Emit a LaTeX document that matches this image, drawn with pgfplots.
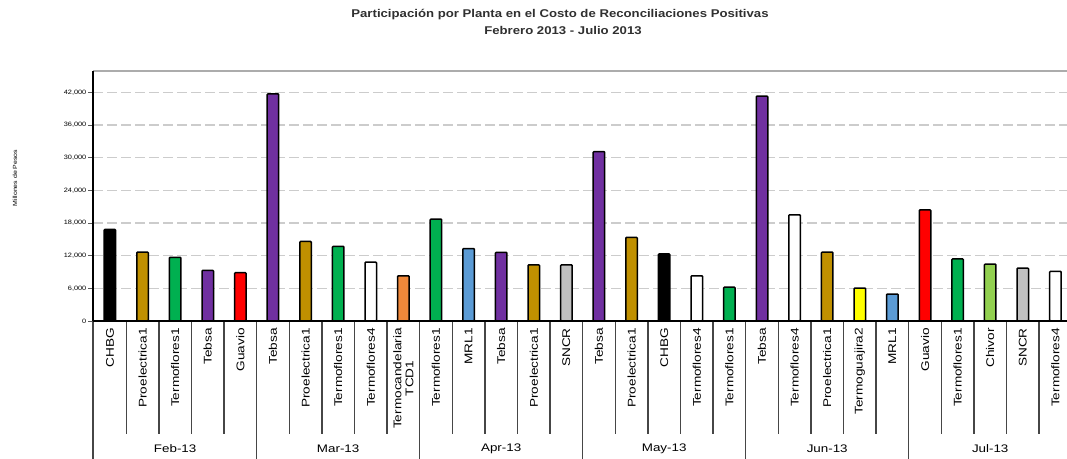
\documentclass[border=0pt]{standalone}
\usepackage{fontspec}
\setmainfont{Liberation Sans}
\newfontfamily\sfs[FakeStretch=1.17]{Liberation Sans}
\newfontfamily\sfl[FakeStretch=1.22]{Liberation Sans}
\usepackage{pgfplots}
\pgfplotsset{compat=1.18}
\definecolor{cgold}{HTML}{C09000}
\definecolor{cgreen}{HTML}{00B050}
\definecolor{cpurple}{HTML}{7030A0}
\definecolor{cred}{HTML}{FF0000}
\definecolor{corange}{HTML}{F0883A}
\definecolor{cblue}{HTML}{5B9BD5}
\definecolor{cgray}{HTML}{C0C0C0}
\definecolor{cyellow}{HTML}{FFFF00}
\definecolor{clgreen}{HTML}{92D050}
\definecolor{titlegray}{HTML}{303030}
\begin{document}
\begin{tikzpicture}[x=1bp,y=1bp]
\useasboundingbox (0,0) rectangle (1067,459);
\clip (0,0) rectangle (1067,459);
\node[font=\sfs\bfseries\fontsize{11.3}{13}\selectfont, text=titlegray, inner sep=0] at (560,444) {Participación por Planta en el Costo de Reconciliaciones Positivas};
\node[font=\sfs\bfseries\fontsize{11.3}{13}\selectfont, text=titlegray, inner sep=0] at (563,428.5) {Febrero 2013 - Julio 2013};
\node[rotate=90, font=\sfs\fontsize{6}{7}\selectfont, inner sep=0] at (15,281) {Millones de Pesos};
\begin{axis}[
  at={(93bp,138bp)}, anchor=south west,
  scale only axis, width=978.7bp, height=250bp,
  xmin=-0.52, xmax=29.5, ymin=0, ymax=45900,
  clip=false,
  axis line style={draw=none},
  ybar, bar width=11.5bp,
  ytick={0,6000,12000,18000,24000,30000,36000,42000},
  ymajorgrids,
  major grid style={draw=gray!40, line width=1.4bp, dash pattern=on 10bp off 4bp},
  tick align=outside,
  major tick length=5bp,
  ytick style={draw=gray!70!black, line width=0.8bp},
  yticklabel style={font=\sfs\fontsize{6.3}{7}\selectfont, inner sep=1.5bp},
  /pgf/number format/assume math mode=true,
  /pgf/number format/1000 sep={,},
  /pgf/number format/fixed,
  scaled y ticks=false,
  xtick={0,...,29},
  xtick style={draw=none},
  xticklabel style={yshift=-2bp, rotate=90, anchor=east, align=center, font=\sfl\fontsize{11.2}{12}\selectfont, inner sep=0pt},
  xticklabels={CHBG,Proelectrica1,Termoflores1,Tebsa,Guavio,
    Tebsa,Proelectrica1,Termoflores1,Termoflores4,{Termocandelaria\\TCD1},
    Termoflores1,MRL1,Tebsa,Proelectrica1,SNCR,
    Tebsa,Proelectrica1,CHBG,Termoflores4,Termoflores1,
    Tebsa,Termoflores4,Proelectrica1,Termoguajira2,MRL1,
    Guavio,Termoflores1,Chivor,SNCR,Termoflores4},
  every axis plot/.append style={bar shift=0pt, draw=black, line width=1.5bp, rounded corners=0.8bp},
]
\addplot[fill=black] coordinates {(0,16800) (17,12300)};
\addplot[fill=cgold] coordinates {(1,12650) (6,14600) (13,10300) (16,15350) (22,12650)};
\addplot[fill=cgreen] coordinates {(2,11700) (7,13700) (10,18700) (19,6200) (26,11400)};
\addplot[fill=cpurple] coordinates {(3,9300) (5,41700) (12,12600) (15,31100) (20,41300)};
\addplot[fill=cred] coordinates {(4,8870) (25,20400)};
\addplot[fill=white] coordinates {(8,10800) (18,8300) (21,19500) (29,9100)};
\addplot[fill=corange] coordinates {(9,8300)};
\addplot[fill=cblue] coordinates {(11,13300) (24,4950)};
\addplot[fill=cgray] coordinates {(14,10300) (28,9700)};
\addplot[fill=cyellow] coordinates {(23,6050)};
\addplot[fill=clgreen] coordinates {(27,10450)};
% axis frame
\draw[gray!65, line width=2.6bp] (rel axis cs:0,1) -- (rel axis cs:1,1);
\draw[black, line width=1.3bp] (rel axis cs:0,0) -- (rel axis cs:0,1);
% separators
\pgfplotsinvokeforeach{0.5,1.5,2.5,3.5,5.5,6.5,7.5,8.5,10.5,11.5,12.5,13.5,15.5,16.5,17.5,18.5,20.5,21.5,22.5,23.5,25.5,26.5,27.5,28.5}{
  \draw[gray!55!black, line width=1.5bp] (axis cs:#1,0) -- ++(0bp,-113bp);
}
\pgfplotsinvokeforeach{-0.52,4.5,9.5,14.5,19.5,24.5}{
  \draw[gray!55!black, line width=1.5bp] (axis cs:#1,0) -- ++(0bp,-140bp);
}
\draw[black, line width=2bp] (rel axis cs:0,0) -- (rel axis cs:1,0);
\node[font=\sfl\fontsize{11}{12}\selectfont] at (axis cs:2,0) [yshift=-128bp] {Feb-13};
\node[font=\sfl\fontsize{11}{12}\selectfont] at (axis cs:7,0) [yshift=-128bp] {Mar-13};
\node[font=\sfl\fontsize{11}{12}\selectfont] at (axis cs:12,0) [yshift=-128bp] {Apr-13};
\node[font=\sfl\fontsize{11}{12}\selectfont] at (axis cs:17,0) [yshift=-128bp] {May-13};
\node[font=\sfl\fontsize{11}{12}\selectfont] at (axis cs:22,0) [yshift=-128bp] {Jun-13};
\node[font=\sfl\fontsize{11}{12}\selectfont] at (axis cs:27,0) [yshift=-128bp] {Jul-13};
\end{axis}
\end{tikzpicture}
\end{document}
